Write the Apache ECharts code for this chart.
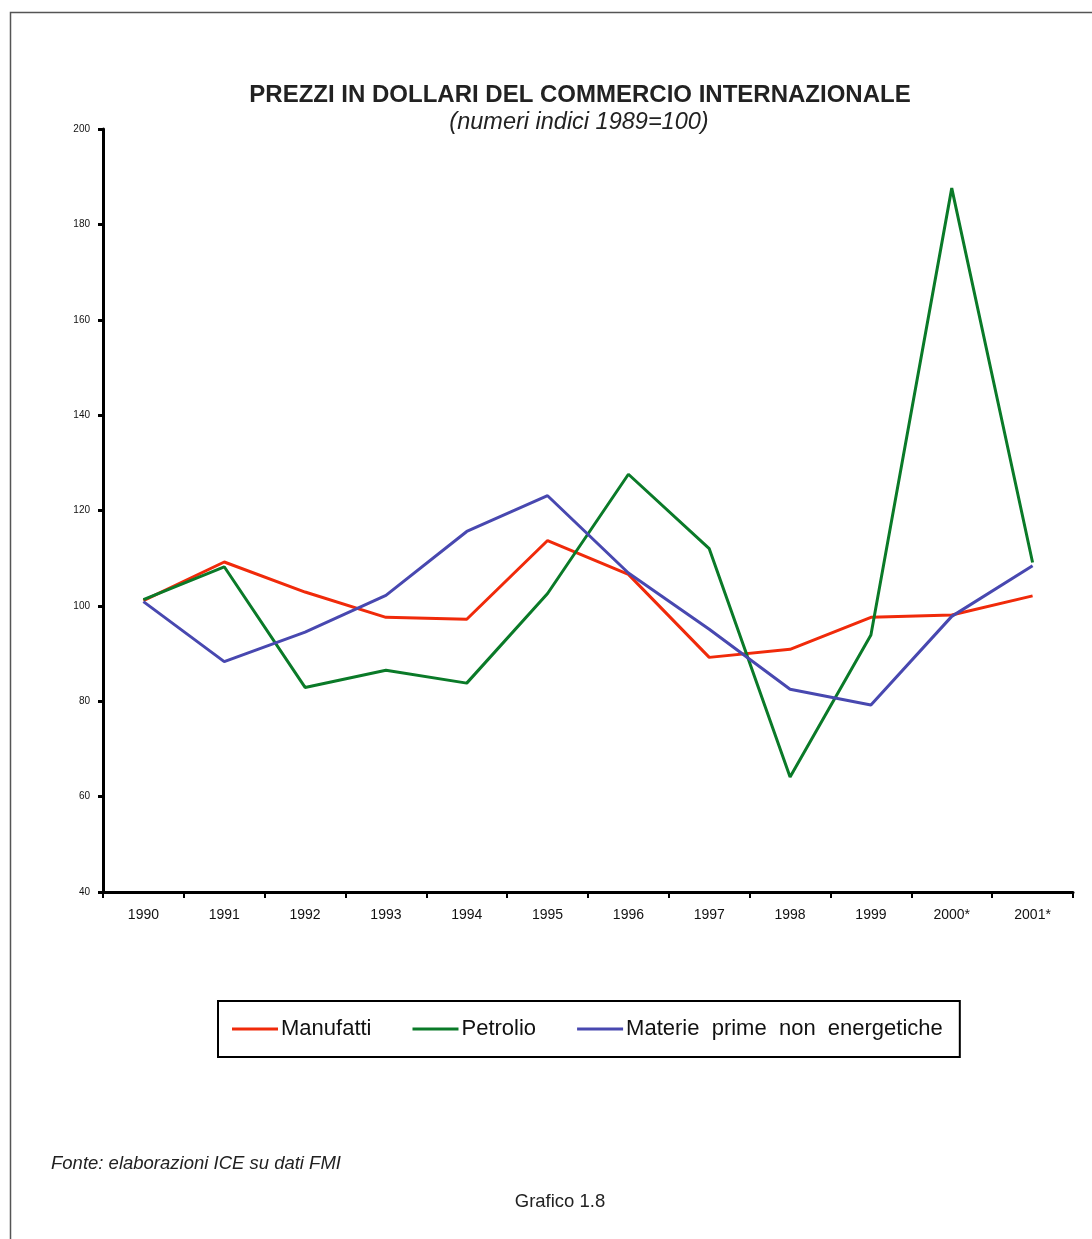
<!DOCTYPE html>
<html>
<head>
<meta charset="utf-8">
<script src="https://cdn.jsdelivr.net/npm/echarts@6/dist/echarts.min.js"></script>
<style>
  html, body { margin: 0; padding: 0; background: #fff; }
  #chart { width: 1092px; height: 1239px; }
</style>
</head>
<body>
<div id="chart"></div>
<script>
// Anni (2000 e 2001 stimati)
const years = ['1990', '1991', '1992', '1993', '1994', '1995', '1996', '1997', '1998', '1999', '2000*', '2001*'];

// Numeri indici, 1989 = 100
const manufatti = [101.1, 109.2, 102.9, 97.6, 97.2, 113.7, 106.6, 89.2, 90.9, 97.6, 98.1, 102.1];
const petrolio = [101.3, 108.2, 82.9, 86.5, 83.8, 102.6, 127.6, 112.0, 64.1, 93.9, 187.6, 109.1];
const materiePrime = [100.9, 88.3, 94.5, 102.2, 115.6, 123.1, 106.9, 95.1, 82.5, 79.2, 97.8, 108.4];

const seriesNames = ['Manufatti', 'Petrolio', 'Materie prime non energetiche'];
const seriesColors = ['#f02a0a', '#0a7a28', '#4848b0'];

const FONT = '"Liberation Sans", Arial, Helvetica, sans-serif';

const chart = echarts.init(document.getElementById('chart'), null, { renderer: 'canvas' });

const makeLine = (name, data, color) => ({
  name: name,
  type: 'line',
  data: data,
  symbol: 'none',
  smooth: false,
  lineStyle: { color: color, width: 3 },
  itemStyle: { color: color },
  emphasis: { disabled: true },
  animation: false
});

chart.setOption({
  backgroundColor: '#fff',
  animation: false,
  title: [
    {
      text: 'PREZZI IN DOLLARI DEL COMMERCIO INTERNAZIONALE',
      left: 575, top: 78, textAlign: 'center',
      textStyle: { fontFamily: FONT, fontSize: 24, fontWeight: 'bold', color: '#222' }
    },
    {
      text: '(numeri indici 1989=100)',
      left: 574, top: 106, textAlign: 'center',
      textStyle: { fontFamily: FONT, fontSize: 23.5, fontStyle: 'italic', fontWeight: 'normal', color: '#222' }
    },
    {
      text: 'Fonte: elaborazioni ICE su dati FMI',
      left: 46, top: 1149,
      textStyle: { fontFamily: FONT, fontSize: 18.5, fontStyle: 'italic', fontWeight: 'normal', color: '#222' }
    },
    {
      text: 'Grafico 1.8',
      left: 555, top: 1187, textAlign: 'center',
      textStyle: { fontFamily: FONT, fontSize: 18.5, fontWeight: 'normal', color: '#222' }
    }
  ],
  legend: {
    data: seriesNames,
    left: 218, top: 1001,
    orient: 'horizontal',
    icon: 'rect',
    itemWidth: 46, itemHeight: 3,
    itemGap: 41,
    padding: [17, 17, 17, 14],
    borderColor: '#000', borderWidth: 2,
    selectedMode: false,
    formatter: name => name.split(' ').join('  '),
    textStyle: { fontFamily: FONT, fontSize: 22, color: '#111', padding: [0, 0, 0, -2] }
  },
  grid: { left: 103, right: 19, top: 129, bottom: 347, containLabel: false },
  xAxis: {
    type: 'category',
    data: years,
    boundaryGap: true,
    axisLine: { lineStyle: { color: '#000', width: 3 } },
    axisTick: { show: true, length: 6, lineStyle: { color: '#000', width: 2 } },
    axisLabel: { fontFamily: FONT, fontSize: 14, color: '#111', margin: 16 },
    splitLine: { show: false }
  },
  yAxis: {
    type: 'value',
    min: 40, max: 200, interval: 20,
    axisLine: { show: true, lineStyle: { color: '#000', width: 3 } },
    axisTick: { show: true, length: 5, lineStyle: { color: '#000', width: 3 } },
    axisLabel: { fontFamily: FONT, fontSize: 10, color: '#111', margin: 13 },
    splitLine: { show: false }
  },
  graphic: [
    {
      type: 'polyline',
      shape: { points: [[10.5, 1239], [10.5, 12.5], [1092, 12.5]] },
      style: { stroke: '#555', lineWidth: 1.5, fill: null },
      silent: true
    }
  ],
  series: [
    makeLine(seriesNames[0], manufatti, seriesColors[0]),
    makeLine(seriesNames[1], petrolio, seriesColors[1]),
    makeLine(seriesNames[2], materiePrime, seriesColors[2])
  ]
});
</script>
</body>
</html>
